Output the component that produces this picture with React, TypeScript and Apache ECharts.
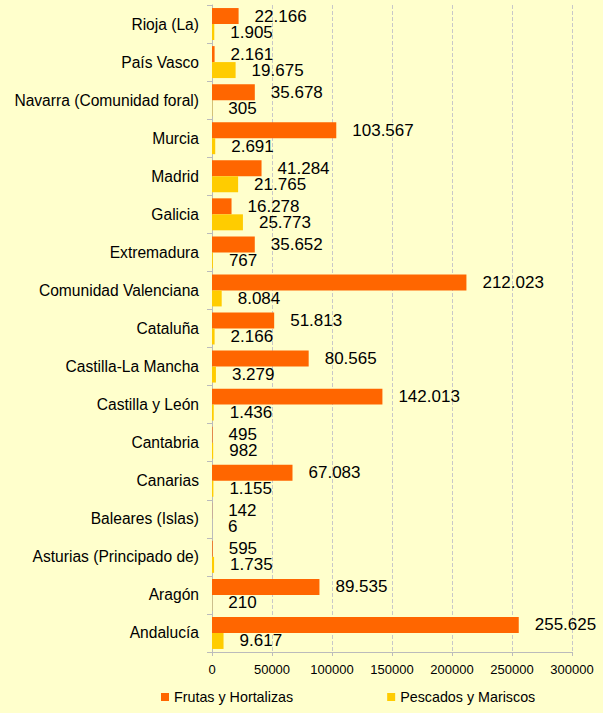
import React, { useEffect, useRef } from "react";
import * as echarts from "echarts";

const categories = [
  "Andalucía",
  "Aragón",
  "Asturias (Principado de)",
  "Baleares (Islas)",
  "Canarias",
  "Cantabria",
  "Castilla y León",
  "Castilla-La Mancha",
  "Cataluña",
  "Comunidad Valenciana",
  "Extremadura",
  "Galicia",
  "Madrid",
  "Murcia",
  "Navarra (Comunidad foral)",
  "País Vasco",
  "Rioja (La)",
];
const frutas = [255625, 89535, 595, 142, 67083, 495, 142013, 80565, 51813, 212023, 35652, 16278, 41284, 103567, 35678, 2161, 22166];
const pescados = [9617, 210, 1735, 6, 1155, 982, 1436, 3279, 2166, 8084, 767, 25773, 21765, 2691, 305, 19675, 1905];
const seriesNames = ["Frutas y Hortalizas", "Pescados y Mariscos"];

const FONT = "Liberation Sans";
const fmt = (v: number) => String(v).replace(/\B(?=(\d{3})+(?!\d))/g, ".");

export default function App() {
  const ref = useRef<HTMLDivElement>(null);
  useEffect(() => {
    const chart = echarts.init(ref.current!, null, { renderer: "svg" });
    const label = {
      show: true,
      position: "right" as const,
      distance: 16,
      fontSize: 17,
      color: "#000",
      fontFamily: FONT,
      formatter: (p: any) => fmt(p.value),
    };
    chart.setOption({
      animation: false,
      backgroundColor: "#FFFFCC",
      textStyle: { fontFamily: FONT },
      grid: { left: 212, right: 31, top: 5, bottom: 61 },
      legend: {
        top: 690,
        left: 156,
        padding: [0, 5],
        itemWidth: 8,
        itemHeight: 8,
        itemGap: 94,
        icon: "rect",
        textStyle: { fontSize: 14.3, color: "#000", fontFamily: FONT },
        data: seriesNames,
      },
      xAxis: {
        type: "value",
        min: 0,
        max: 300000,
        interval: 50000,
        axisLine: { show: true, lineStyle: { color: "#BBBBBB" } },
        axisTick: { show: true, length: 4, lineStyle: { color: "#BBBBBB" } },
        axisLabel: { fontSize: 13, color: "#000", margin: 11, fontFamily: FONT, formatter: (v: number) => String(v) },
        splitLine: { show: true, lineStyle: { color: "#C8C8C8", type: "dashed" } },
      },
      yAxis: {
        type: "category",
        data: categories,
        axisLine: { show: true, lineStyle: { color: "#BBBBBB" } },
        axisTick: { show: true, length: 5, lineStyle: { color: "#BBBBBB" } },
        axisLabel: { fontSize: 15.6, color: "#000", margin: 13, fontFamily: FONT },
      },
      series: [
        {
          name: seriesNames[0],
          type: "bar",
          data: frutas,
          itemStyle: { color: "#FF6600" },
          barGap: "0%",
          barCategoryGap: "16%",
          label,
        },
        {
          name: seriesNames[1],
          type: "bar",
          data: pescados,
          itemStyle: { color: "#FFCC00" },
          barGap: "0%",
          barCategoryGap: "16%",
          label,
        },
      ],
    });
    return () => chart.dispose();
  }, []);
  return <div ref={ref} style={{ width: 603, height: 713, position: "absolute", left: 0, top: 0 }} />;
}
